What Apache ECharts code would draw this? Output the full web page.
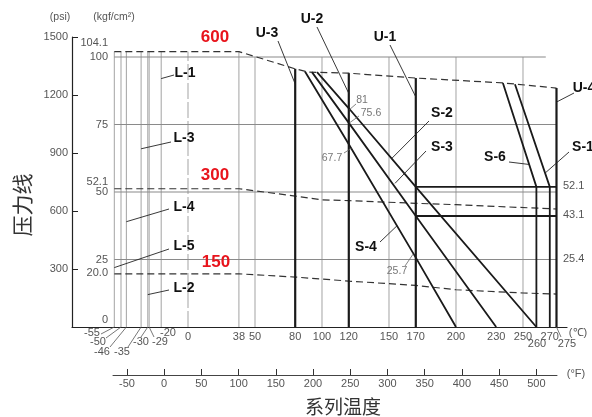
<!DOCTYPE html>
<html><head><meta charset="utf-8">
<script src="https://cdn.jsdelivr.net/npm/echarts@6/dist/echarts.min.js"></script>
<style>html,body{margin:0;padding:0;background:#fff}#c{width:592px;height:417px}</style>
</head><body><div id="c"></div>
<script>
// ---------- data (temperatures in °C, pressures in kgf/cm²) ----------
const tempAxisC = [0,38,50,80,100,120,150,170,200,230,250,270];
const tempSideC = [-55,-50,-46,-35,-30,-29,-20,260,275];
const tempAxisF = [-50,0,50,100,150,200,250,300,350,400,450,500];
const psiTicks = [300,600,900,1200,1500];
const kgfTicks = [0,20,25,50,52.1,75,100,104.1];
const rightLabels = ['52.1','43.1','25.4'];
const rightLevels = [51.9,41.1,25];

const class600 = [[-55,102],[38,102],[80,95.6],[90,94.4],[120,94],[170,92.2],[235,90.4],[275,88.5]];
const class300 = [[-55,51.2],[38,51.2],[80,48.5],[100,47.1],[120,46.8],[170,45.8],[200,45.3],[275,43.7]];
const class150 = [[-55,19.7],[38,19.7],[80,18.5],[120,17],[170,15.4],[200,13.8],[250,12.6],[275,12.2]];

const lowGridTemps = [-55,-50,-46,-35,-30,-29,-20,38];
const highGridTemps = [50,100,150,200,250];
const gridLevels = [100,75,50,25];
const gridLevelEnds = [267,275,275,275];

const uTemps = [80,120,170,275];
const uTops = [95.6,94,92.2,88.5];

const s4 = [[87.3,94.6],[120,67.7],[170,25.7],[200,0]];
const s3 = [[92.5,94.4],[120,75.6],[170,41.1],[230,0]];
const s2 = [[96.3,94.4],[120,81],[170,51.9],[260,0]];
const s6 = [[235,90.4],[260,51.9],[260,0]];
const s1 = [[244,89.9],[270,51.9],[270,0]];
const step52 = [[170,51.9],[275,51.9]];
const step43 = [[170,41.1],[275,41.1]];

// ---------- chart ----------
const FONT = '"Liberation Sans", Arial, sans-serif';
const chart = echarts.init(document.getElementById('c'));
const series = [];
function add(data, color, width, type, z){
  series.push({type:'line', xAxisIndex:0, yAxisIndex:1, data, symbol:'none', silent:true,
    animation:false, z:z||2, lineStyle:{color, width, type:type||'solid'}});
}
lowGridTemps.forEach(t=>add([[t,0],[t,class600[0][1]]],'#a3a3a3',1));
add([[0,0],[0,class600[0][1]]],'#a3a3a3',1,[16,3]);
highGridTemps.forEach(t=>add([[t,0],[t,100]],'#a3a3a3',1));
gridLevels.forEach((v,i)=>add([[-55,v],[gridLevelEnds[i],v]],'#8a8a8a',1.2));
[class600,class300,class150].forEach(d=>add(d,'#333',1.2,[7,4],3));
uTemps.forEach((t,i)=>add([[t,0],[t,uTops[i]]],'#1a1a1a',2.2,'solid',4));
[s4,s3,s2,s6,s1,step52,step43].forEach(d=>add(d,'#1a1a1a',1.8,'solid',4));

const lbl = {color:'#555', fontSize:11, fontFamily:FONT};
chart.setOption({
  animation:false,
  grid:[{left:72, top:37, width:495, height:290},{left:113, top:370, width:444, height:5}],
  xAxis:[
    {gridIndex:0, type:'value', min:-86.57, max:282.84,
     axisLine:{show:true, onZero:false, lineStyle:{color:'#222', width:1.2}}, axisTick:{show:false}, splitLine:{show:false},
     axisLabel:Object.assign({customValues:tempAxisC, margin:4, formatter:v=>String(v)}, lbl)},
    {gridIndex:1, type:'value', min:-68.7, max:527.7, position:'bottom',
     axisLine:{show:true, onZero:false, lineStyle:{color:'#444', width:1}},
     axisTick:{show:true, inside:true, length:6, customValues:tempAxisF, lineStyle:{color:'#333'}},
     splitLine:{show:false}, axisLabel:Object.assign({customValues:tempAxisF, margin:3, formatter:v=>String(v)}, lbl)}
  ],
  yAxis:[
    {gridIndex:0, type:'value', min:0, max:1500, position:'left',
     axisLine:{show:true, onZero:false, lineStyle:{color:'#222', width:1.2}},
     axisTick:{show:true, inside:true, length:6, customValues:psiTicks, lineStyle:{color:'#222'}},
     splitLine:{show:false}, axisLabel:Object.assign({customValues:psiTicks, margin:4, formatter:v=>String(v)}, lbl)},
    {gridIndex:0, type:'value', min:0, max:107.4, position:'left', offset:-38,
     axisLine:{show:false}, axisTick:{show:false}, splitLine:{show:false},
     axisLabel:Object.assign({customValues:kgfTicks, margin:2,
       formatter:v=>{
         if (Math.abs(v)<1e-6) return '{lo|0}';
         if (Math.abs(v-52.1)<1e-6) return '{mid|52.1}';
         if (Math.abs(v-104.1)<1e-6) return '{hi|104.1}';
         if (Math.abs(v-20)<1e-6) return '20.0';
         return String(v);
       },
       rich:{lo:Object.assign({padding:[0,0,14,0]},lbl), mid:Object.assign({padding:[0,0,8,0]},lbl), hi:Object.assign({padding:[0,0,6,0]},lbl)}
     }, lbl)},
    {gridIndex:1, type:'value', min:0, max:1, show:false}
  ],
  series
});

// ---------- annotations ----------
const boldNotes = [
 {text:'U-3', at:[267,33], from:[278,41], to:[80,90]},
 {text:'U-2', at:[312,19], from:[317,27], to:[120,86.5]},
 {text:'U-1', at:[385,37], from:[390,45], to:[170,85.2]},
 {text:'U-4', at:[584,88], from:[574,93], to:[275,83.3]},
 {text:'S-2', at:[442,113], from:[429,121], to:[152,62.4]},
 {text:'S-3', at:[442,147], from:[426,151], to:[154.5,53.2]},
 {text:'S-6', at:[495,157], from:[509,162], to:[254.5,60.2]},
 {text:'S-1', at:[583,147], from:[569,152], to:[266.5,57]},
 {text:'S-4', at:[366,247], from:[380,242], to:[156,37.5]},
 {text:'L-1', at:[185,73], from:[174,75], to:[-20,92]},
 {text:'L-3', at:[184,138], from:[171,142], to:[-35,66]},
 {text:'L-4', at:[184,207], from:[169,209], to:[-46,39]},
 {text:'L-5', at:[184,246], from:[169,249], to:[-55,22]},
 {text:'L-2', at:[184,288], from:[169,290], to:[-30,12]}
];
const valueNotes = [
 {text:'81', at:[362,100], from:[356,104], to:[120.5,80.5]},
 {text:'75.6', at:[371,113], from:[359,116], to:[120.5,75.6]},
 {text:'67.7', at:[332,158], from:[344,153], to:[122,66.2]},
 {text:'25.7', at:[397,271], from:[405,266], to:[168,27]}
];
const classNotes = [{text:'600', at:[215,37]},{text:'300', at:[215,175]},{text:'150', at:[216,262]}];
const sideLabelAt = [[92,333],[98,342],[102,352],[122,352],[141,342],[160,342],[168,333],[537,344],[567,344]];
const sideLeaderFrom = [[101,334],[106,338],[110,347],[128,347],[141,337],[154,337],null,null,[561,337]];

const px = p => chart.convertToPixel({xAxisIndex:0, yAxisIndex:1}, p);
const g = [];
function text(t, x, y, font, fill, extra){
  g.push(Object.assign({type:'text', x, y, z:20, silent:true,
    style:{text:t, font, fill, align:'center', verticalAlign:'middle', textAlign:'center', textVerticalAlign:'middle'}}, extra||{}));
}
function line(a, b, w, c){
  g.push({type:'line', z:19, silent:true, shape:{x1:a[0], y1:a[1], x2:b[0], y2:b[1]}, style:{stroke:c||'#333', lineWidth:w||0.8}});
}
boldNotes.forEach(n=>{ line(n.from, px(n.to), 0.9, '#222'); text(n.text, n.at[0], n.at[1], 'bold 14px ' + FONT, '#111'); });
valueNotes.forEach(n=>{ line(n.from, px(n.to), 0.8, '#666'); text(n.text, n.at[0], n.at[1], '10.5px ' + FONT, '#777'); });
classNotes.forEach(n=>text(n.text, n.at[0], n.at[1], 'bold 17px ' + FONT, '#e8141c'));
tempSideC.forEach((t,i)=>{
  if (sideLeaderFrom[i]) line(sideLeaderFrom[i], px([t,0]), 0.8, '#555');
  text(String(t), sideLabelAt[i][0], sideLabelAt[i][1], '11px ' + FONT, '#555');
});
rightLabels.forEach((t,i)=>{
  const p = px([275, rightLevels[i]]);
  g.push({type:'text', x:563, y:p[1]-1, z:20, silent:true,
    style:{text:t, font:'11px ' + FONT, fill:'#555', align:'left', verticalAlign:'middle', textAlign:'left', textVerticalAlign:'middle'}});
});
text('(psi)', 60, 17, '10.5px ' + FONT, '#555');
text('(kgf/cm²)', 114, 17, '10.5px ' + FONT, '#555');
text('(℃)', 578, 333, '11px ' + FONT, '#555');
text('(°F)', 576, 374, '11px ' + FONT, '#555');
text('系列温度', 343, 407, '19px "Noto Sans CJK SC"', '#333');
text('压力线', 22, 205, '21px "Noto Sans CJK SC"', '#333', {rotation: Math.PI/2});
chart.setOption({graphic: g});
</script></body></html>
